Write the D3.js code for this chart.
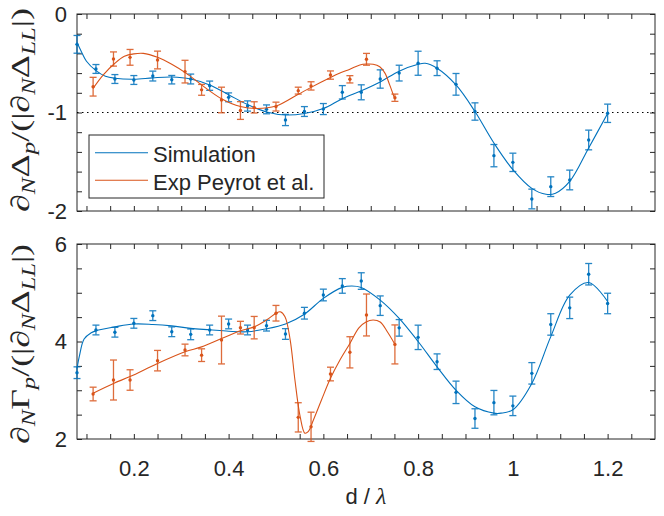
<!DOCTYPE html>
<html>
<head>
<meta charset="utf-8">
<script src="https://cdn.jsdelivr.net/npm/d3@7"></script>
<style>
body { margin: 0; background: #fff; }
text { font-family: "Liberation Sans", Arial, sans-serif; fill: #262626; }
.math { font-family: "Liberation Serif", "DejaVu Serif", serif; }
</style>
</head>
<body>
<svg id="chart" width="664" height="516"></svg>
<script>
// ---- data ----
const simX = [0.08, 0.12, 0.16, 0.20, 0.24, 0.28, 0.32, 0.36, 0.40, 0.44, 0.48, 0.52, 0.56, 0.60, 0.64,
              0.68, 0.72, 0.76, 0.80, 0.84, 0.88, 0.92, 0.96, 1.00, 1.04, 1.08, 1.12, 1.16, 1.20];
const simDelta = [-0.308, -0.558, -0.66, -0.67, -0.63, -0.667, -0.66, -0.728, -0.846, -0.934, -0.968, -1.076, -0.99, -0.965, -0.795,
                  -0.795, -0.66, -0.60, -0.50, -0.55, -0.714, -0.99, -1.438, -1.506, -1.878, -1.753, -1.685, -1.279, -1.008];
const simDeltaErr = [0.09, 0.045, 0.045, 0.045, 0.05, 0.043, 0.05, 0.047, 0.045, 0.052, 0.045, 0.057, 0.05, 0.056, 0.068,
                     0.076, 0.093, 0.08, 0.122, 0.075, 0.11, 0.088, 0.113, 0.093, 0.10, 0.10, 0.10, 0.10, 0.093];
const simGamma = [3.36, 4.236, 4.19, 4.373, 4.53, 4.20, 4.147, 4.236, 4.36, 4.236, 4.325, 4.154, 4.58, 4.954, 5.14,
                  5.24, 4.735, 4.28, 4.085, 3.586, 2.957, 2.42, 2.746, 2.68, 3.347, 4.35, 4.69, 5.38, 4.78];
const simGammaErr = [0.12, 0.1, 0.1, 0.1, 0.1, 0.1, 0.11, 0.1, 0.1, 0.1, 0.11, 0.11, 0.12, 0.12, 0.15,
                     0.17, 0.2, 0.17, 0.25, 0.16, 0.23, 0.2, 0.25, 0.2, 0.22, 0.22, 0.22, 0.22, 0.21];

const expX = [0.114, 0.157, 0.192, 0.25, 0.308, 0.343, 0.385, 0.425, 0.454, 0.50, 0.547, 0.574, 0.615, 0.656, 0.691, 0.751];
const expDelta = [-0.738, -0.457, -0.44, -0.467, -0.585, -0.77, -0.873, -0.98, -0.948, -0.94, -0.778, -0.73, -0.62, -0.663, -0.46, -0.85];
const expDeltaErr = [0.095, 0.072, 0.08, 0.09, 0.115, 0.055, 0.13, 0.09, 0.057, 0.045, 0.035, 0.042, 0.042, 0.037, 0.06, 0.037];
const expGamma = [2.923, 3.21, 3.21, 3.607, 3.826, 3.72, 4.03, 4.284, 4.284, 4.58, 2.444, 2.25, 3.333, 3.778, 4.544, 3.94];
const expGammaErr = [0.14, 0.41, 0.21, 0.21, 0.12, 0.13, 0.49, 0.13, 0.23, 0.16, 0.3, 0.3, 0.14, 0.32, 0.43, 0.4];

// fitted curves, sampled from the figure
const simDeltaFit = [[0.08, -0.29], [0.09, -0.39], [0.10, -0.48], [0.12, -0.575], [0.14, -0.632], [0.16, -0.652], [0.20, -0.662],
  [0.24, -0.648], [0.28, -0.64], [0.32, -0.66], [0.36, -0.72], [0.40, -0.82], [0.44, -0.92], [0.48, -0.995], [0.52, -1.025],
  [0.56, -1.01], [0.60, -0.96], [0.64, -0.86], [0.68, -0.78], [0.72, -0.69], [0.76, -0.58], [0.80, -0.51], [0.815, -0.50],
  [0.84, -0.55], [0.88, -0.72], [0.92, -0.99], [0.96, -1.31], [1.00, -1.58], [1.04, -1.77], [1.07, -1.83], [1.09, -1.82],
  [1.12, -1.70], [1.16, -1.36], [1.20, -1.01]];
const expDeltaFit = [[0.114, -0.755], [0.135, -0.62], [0.16, -0.50], [0.18, -0.43], [0.20, -0.405], [0.22, -0.40], [0.25, -0.44],
  [0.28, -0.51], [0.31, -0.60], [0.343, -0.72], [0.385, -0.86], [0.425, -0.94], [0.46, -0.96], [0.50, -0.935], [0.547, -0.815],
  [0.574, -0.745], [0.615, -0.645], [0.635, -0.60], [0.656, -0.56], [0.677, -0.518], [0.691, -0.508], [0.705, -0.51],
  [0.719, -0.535], [0.73, -0.60], [0.74, -0.72], [0.749, -0.84]];
const simGammaFit = [[0.08, 3.45], [0.085, 3.7], [0.095, 4.05], [0.11, 4.18], [0.12, 4.22], [0.16, 4.30], [0.20, 4.36], [0.24, 4.35],
  [0.28, 4.32], [0.32, 4.27], [0.36, 4.24], [0.40, 4.21], [0.44, 4.20], [0.48, 4.26], [0.52, 4.36], [0.56, 4.56], [0.60, 4.885],
  [0.64, 5.11], [0.66, 5.14], [0.68, 5.11], [0.72, 4.85], [0.76, 4.475], [0.80, 4.0], [0.84, 3.48], [0.88, 3.0], [0.92, 2.66],
  [0.96, 2.53], [0.975, 2.53], [1.00, 2.60], [1.04, 3.14], [1.08, 4.10], [1.12, 4.95], [1.16, 5.21], [1.20, 4.82]];
const expGammaFit = [[0.114, 2.94], [0.157, 3.14], [0.192, 3.28], [0.25, 3.55], [0.308, 3.79], [0.343, 3.89], [0.385, 4.06],
  [0.425, 4.22], [0.454, 4.30], [0.48, 4.44], [0.50, 4.58], [0.509, 4.61], [0.519, 4.51], [0.53, 4.03], [0.54, 3.21],
  [0.551, 2.46], [0.561, 2.12], [0.568, 2.15], [0.579, 2.39], [0.596, 2.80], [0.615, 3.245], [0.635, 3.62], [0.656, 3.96],
  [0.675, 4.28], [0.69, 4.40], [0.705, 4.44], [0.72, 4.40], [0.735, 4.20], [0.75, 3.96]];

const xTicks = [0.1, 0.15, 0.2, 0.25, 0.3, 0.35, 0.4, 0.45, 0.5, 0.55, 0.6, 0.65, 0.7, 0.75, 0.8, 0.85, 0.9, 0.95, 1, 1.05, 1.1, 1.15, 1.2, 1.25];
const xTickLabels = [0.2, 0.4, 0.6, 0.8, 1, 1.2];
const deltaTicks = [-2, -1.8, -1.6, -1.4, -1.2, -1, -0.8, -0.6, -0.4, -0.2, 0];
const deltaTickLabels = [-2, -1, 0];
const gammaTicks = [2, 2.5, 3, 3.5, 4, 4.5, 5, 5.5, 6];
const gammaTickLabels = [2, 4, 6];
const seriesNames = ["Simulation", "Exp Peyrot et al."];

const blue = "#0072BD", orange = "#D95319";

const svg = d3.select("#chart");
const x = d3.scaleLinear().domain([0.08, 1.3]).range([77, 655]);

const panels = [
  { y: d3.scaleLinear().domain([-2, 0]).range([211, 14]), ticks: deltaTicks, labels: deltaTickLabels,
    sim: simDelta, simErr: simDeltaErr, exp: expDelta, expErr: expDeltaErr,
    simFit: simDeltaFit, expFit: expDeltaFit, xLabels: false },
  { y: d3.scaleLinear().domain([2, 6]).range([439, 244]), ticks: gammaTicks, labels: gammaTickLabels,
    sim: simGamma, simErr: simGammaErr, exp: expGamma, expErr: expGammaErr,
    simFit: simGammaFit, expFit: expGammaFit, xLabels: true }
];

const fmt = d => String(d);

panels.forEach((p, i) => {
  const g = svg.append("g");
  const [y0, y1] = p.y.range();
  const [x0, x1] = x.range();

  // axes, ticks pointing inward (matlab box style)
  g.append("g").attr("transform", `translate(0,${y0})`)
    .call(d3.axisBottom(x).tickValues(xTicks).tickSizeInner(-5).tickSizeOuter(0).tickPadding(21)
      .tickFormat(d => p.xLabels && xTickLabels.some(v => Math.abs(v - d) < 1e-9) ? fmt(d) : ""));
  g.append("g").attr("transform", `translate(0,${y1})`)
    .call(d3.axisTop(x).tickValues(xTicks).tickSizeInner(-5).tickSizeOuter(0).tickFormat(""));
  g.append("g").attr("transform", `translate(${x0},0)`)
    .call(d3.axisLeft(p.y).tickValues(p.ticks).tickSizeInner(-5).tickSizeOuter(0).tickPadding(10)
      .tickFormat(d => p.labels.some(v => Math.abs(v - d) < 1e-9) ? fmt(d) : ""));
  g.append("g").attr("transform", `translate(${x1},0)`)
    .call(d3.axisRight(p.y).tickValues(p.ticks).tickSizeInner(-5).tickSizeOuter(0).tickFormat(""));

  g.selectAll(".domain").remove();
  g.selectAll(".tick line").attr("stroke", "#262626");
  g.selectAll(".tick text").attr("font-size", 22).attr("font-family", "Liberation Sans, Arial, sans-serif").attr("fill", "#262626");

  g.append("rect").attr("x", x0).attr("y", y1).attr("width", x1 - x0).attr("height", y0 - y1)
    .attr("fill", "none").attr("stroke", "#262626").attr("stroke-width", 1);

  if (i === 0) {
    g.append("line").attr("x1", x0).attr("x2", x1).attr("y1", p.y(-1)).attr("y2", p.y(-1))
      .attr("stroke", "#000").attr("stroke-width", 1).attr("stroke-dasharray", "1.5,3.5");
  }

  const line = d3.line().x(d => x(d[0])).y(d => p.y(d[1])).curve(d3.curveCatmullRom.alpha(0.5));

  const drawSeries = (xs, vals, errs, fit, color) => {
    g.append("path").datum(fit).attr("d", line).attr("fill", "none").attr("stroke", color).attr("stroke-width", 1.1);
    const eb = g.append("g").attr("stroke", color).attr("stroke-width", 1.3).attr("opacity", 0.85);
    xs.forEach((xv, j) => {
      const cx = x(xv), lo = p.y(vals[j] - errs[j]), hi = p.y(vals[j] + errs[j]);
      eb.append("line").attr("x1", cx).attr("x2", cx).attr("y1", lo).attr("y2", hi);
      eb.append("line").attr("x1", cx - 3.5).attr("x2", cx + 3.5).attr("y1", lo).attr("y2", lo);
      eb.append("line").attr("x1", cx - 3.5).attr("x2", cx + 3.5).attr("y1", hi).attr("y2", hi);
    });
    g.append("g").selectAll("circle").data(xs).join("circle")
      .attr("cx", d => x(d)).attr("cy", (d, j) => p.y(vals[j])).attr("r", 1.7).attr("fill", color);
  };

  drawSeries(simX, p.sim, p.simErr, p.simFit, blue);
  drawSeries(expX, p.exp, p.expErr, p.expFit, orange);
});

// legend
const leg = svg.append("g");
leg.append("rect").attr("x", 89).attr("y", 135).attr("width", 235).attr("height", 63)
  .attr("fill", "#fff").attr("stroke", "#262626").attr("stroke-width", 1);
[blue, orange].forEach((c, i) => {
  const cy = 152.7 + i * 27.5;
  leg.append("line").attr("x1", 95).attr("x2", 148).attr("y1", cy).attr("y2", cy).attr("stroke", c).attr("stroke-width", 1.1);
  leg.append("text").attr("x", 153).attr("y", cy + 9.6).attr("font-size", 22).attr("fill", "#000").text(seriesNames[i]);
});

// axis labels (math style)
function mathLabel(parent, parts, cx, cy, len) {
  const t = parent.append("text").attr("class", "math").attr("font-size", 26)
    .attr("text-anchor", "middle")
    .attr("textLength", len).attr("lengthAdjust", "spacingAndGlyphs")
    .attr("transform", `translate(${cx},${cy}) rotate(-90)`);
  let shift = 0;
  parts.forEach(pt => {
    const dy = pt.sub ? 6 - shift : -shift;
    shift = pt.sub ? 6 : 0;
    t.append("tspan").attr("dy", dy).attr("font-size", pt.sub ? 18 : 26)
      .attr("font-style", pt.italic ? "italic" : "normal").text(pt.t);
  });
  return t;
}

mathLabel(svg, [
  { t: "∂" }, { t: "N", sub: true, italic: true }, { t: "Δ" }, { t: "p", sub: true, italic: true },
  { t: "/(|∂" }, { t: "N", sub: true, italic: true }, { t: "Δ" }, { t: "LL", sub: true, italic: true }, { t: "|)" }
], 29, 110, 204);
mathLabel(svg, [
  { t: "∂" }, { t: "N", sub: true, italic: true }, { t: "Γ" }, { t: "p", sub: true, italic: true },
  { t: "/(|∂" }, { t: "N", sub: true, italic: true }, { t: "Δ" }, { t: "LL", sub: true, italic: true }, { t: "|)" }
], 29, 344, 200);

const xl = svg.append("text").attr("x", 366).attr("y", 504).attr("text-anchor", "middle").attr("font-size", 22);
xl.append("tspan").text("d / ");
xl.append("tspan").attr("font-family", "Liberation Serif, serif").attr("font-style", "italic").attr("font-size", 24).text("λ");
</script>
</body>
</html>
